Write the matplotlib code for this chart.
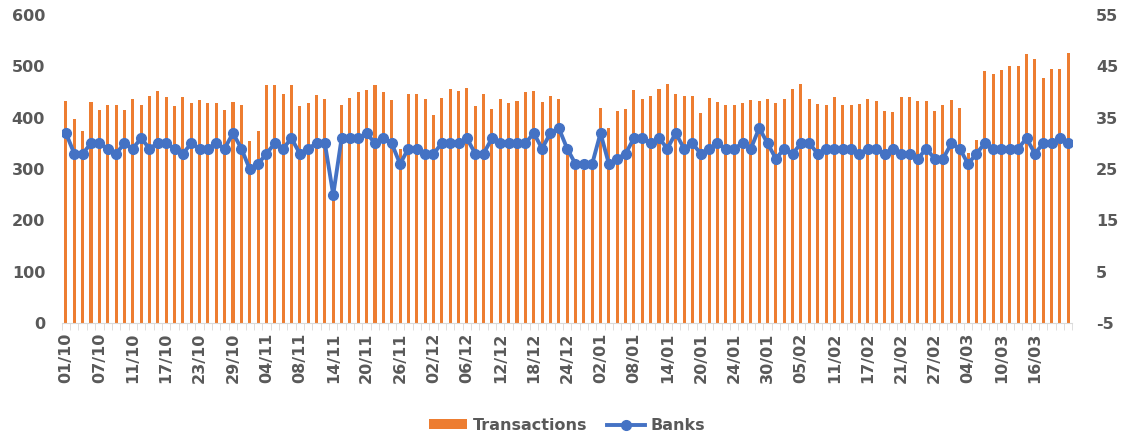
import numpy as np
import matplotlib.pyplot as plt
from matplotlib.ticker import NullFormatter

# ---------------------------------------------------------
# DATA (business days 01/10 - 20/03)
# ---------------------------------------------------------
tick_labels = ["01/10", "07/10", "11/10", "17/10", "23/10", "29/10", "04/11", "08/11",
               "14/11", "20/11", "26/11", "02/12", "06/12", "12/12", "18/12", "24/12",
               "02/01", "08/01", "14/01", "20/01", "24/01", "30/01", "05/02", "11/02",
               "17/02", "21/02", "27/02", "04/03", "10/03", "16/03"]

transactions = [433, 397, 374, 430, 416, 425, 424, 416, 437, 425,
                442, 452, 440, 422, 440, 428, 435, 429, 428, 416,
                431, 424, 355, 374, 464, 464, 446, 464, 422, 429,
                444, 436, 249, 425, 439, 450, 454, 463, 450, 435,
                340, 447, 447, 437, 406, 439, 456, 452, 459, 422,
                446, 417, 437, 429, 433, 450, 452, 431, 442, 437,
                345, 298, 298, 298, 420, 381, 413, 417, 454, 437,
                442, 456, 465, 446, 442, 442, 410, 439, 431, 424,
                425, 429, 435, 433, 437, 429, 437, 456, 465, 437,
                427, 424, 440, 424, 424, 427, 437, 433, 414, 412,
                440, 441, 433, 433, 414, 425, 435, 420, 331, 357,
                492, 485, 493, 500, 500, 524, 515, 477, 495, 495,
                526]

banks = [32, 28, 28, 30, 30, 29, 28, 30, 29, 31,
         29, 30, 30, 29, 28, 30, 29, 29, 30, 29,
         32, 29, 25, 26, 28, 30, 29, 31, 28, 29,
         30, 30, 20, 31, 31, 31, 32, 30, 31, 30,
         26, 29, 29, 28, 28, 30, 30, 30, 31, 28,
         28, 31, 30, 30, 30, 30, 32, 29, 32, 33,
         29, 26, 26, 26, 32, 26, 27, 28, 31, 31,
         30, 31, 29, 32, 29, 30, 28, 29, 30, 29,
         29, 30, 29, 33, 30, 27, 29, 28, 30, 30,
         28, 29, 29, 29, 29, 28, 29, 29, 28, 29,
         28, 28, 27, 29, 27, 27, 30, 29, 26, 28,
         30, 29, 29, 29, 29, 31, 28, 30, 30, 31,
         30]

ORANGE = "#ED7D31"
BLUE = "#4472C4"
GREY = "#595959"

plt.rcParams["font.family"] = ["DejaVu Sans"]
plt.rcParams["axes.unicode_minus"] = False

# ---------------------------------------------------------
# PLOT
# ---------------------------------------------------------
x = np.arange(len(transactions))

fig = plt.figure(figsize=(11.23, 4.34), dpi=100)
ax = fig.add_axes([0.055, 0.256, 0.900, 0.709])
ax2 = ax.twinx()

ax.bar(x, transactions, width=0.36, color=ORANGE, label="Transactions", zorder=2)
ax2.plot(x, banks, color=BLUE, lw=2.8, marker="o", ms=7, label="Banks", zorder=3)

ax.set_xlim(-0.5, len(x) - 0.5)
ax.set_ylim(0, 600)
ax.set_yticks(range(0, 601, 100))
ax2.set_ylim(-5, 55)
ax2.set_yticks(range(-5, 56, 10))

# category axis: labels every 4th day, small ticks between categories
ax.set_xticks(x[:4 * len(tick_labels):4])
ax.set_xticklabels(tick_labels, rotation=90)
ax.set_xticks(np.arange(-0.5, len(x), 1), minor=True)
ax.xaxis.set_minor_formatter(NullFormatter())
ax.tick_params(axis="x", which="major", length=0, pad=7)
ax.tick_params(axis="x", which="minor", length=5, color="#D9D9D9")

for s in list(ax.spines.values()) + list(ax2.spines.values()):
    s.set_visible(False)
ax.tick_params(axis="y", length=0, labelsize=11.5, labelcolor=GREY, pad=12)
ax2.tick_params(axis="y", length=0, labelsize=11.5, labelcolor=GREY, pad=17)
ax.spines["bottom"].set_visible(True)
ax.spines["bottom"].set_color("#D9D9D9")
ax.tick_params(axis="x", labelsize=11.5, labelcolor=GREY)
for t in ax.get_xticklabels() + ax.get_yticklabels() + ax2.get_yticklabels():
    t.set_fontweight("bold")

h1, l1 = ax.get_legend_handles_labels()
h2, l2 = ax2.get_legend_handles_labels()
fig.legend(h1 + h2, l1 + l2, loc="lower center", ncol=2, frameon=False,
           bbox_to_anchor=(0.505, -0.03), prop={"size": 11.5, "weight": "bold"},
           labelcolor=GREY, handlelength=2.4, handleheight=0.5,
           handletextpad=0.35, columnspacing=1.25)

fig.savefig("out.png", dpi=100)
